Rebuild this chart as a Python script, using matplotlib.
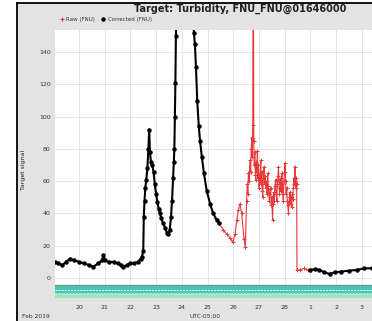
import numpy as np
import pandas as pd
import matplotlib
matplotlib.use("Agg")
import matplotlib.pyplot as plt
import matplotlib.dates as mdates
from matplotlib.lines import Line2D
from matplotlib.patches import Rectangle

# ---------------- data (days since 2019-02-20 00:00) ----------------
base_date = "2019-02-20"

corrected_days = [-0.93, -0.8, -0.65, -0.5, -0.35, -0.2, 0.0, 0.2, 0.4, 0.55, 0.75, 0.9, 0.95,
                  1.02, 1.15, 1.35, 1.5, 1.65, 1.72, 1.85, 2.0, 2.15, 2.3, 2.4, 2.45,
                  2.5, 2.52, 2.55, 2.58, 2.62, 2.66, 2.7, 2.73, 2.76, 2.8, 2.85, 2.9, 2.95,
                  3.0, 3.05, 3.1, 3.15, 3.2, 3.27, 3.35, 3.42, 3.48, 3.53, 3.58, 3.62, 3.66,
                  3.69, 3.71, 3.73, 3.75, 3.77, 3.8, 3.9, 4.1, 4.3, 4.42, 4.47, 4.51, 4.55,
                  4.6, 4.66, 4.71, 4.78, 4.86, 4.97, 5.1, 5.22, 5.36, 5.45,
                  5.46,
                  9.0, 9.2, 9.35, 9.55, 9.75, 9.95, 10.2, 10.5, 10.8, 11.1, 11.4]
corrected_vals = [10, 9, 8, 10, 12, 11, 10, 9, 8, 7, 9, 11, 14,
                  11, 10, 10, 9, 8, 7, 8, 9, 9, 10, 12, 13,
                  17, 38, 48, 56, 61, 68, 80, 92, 78, 72, 70, 66, 58,
                  52, 47, 43, 40, 37, 34, 31, 28, 27, 30, 38, 48, 62,
                  72, 80, 100, 121, 150, 185, 230, 260, 220, 170, 152, 145, 131,
                  110, 94, 85, 75, 65, 54, 46, 40, 36, 34,
                  np.nan,
                  5, 5.5, 5, 3.5, 2.5, 3.5, 4, 4.5, 5, 6, 6]

raw_days = [5.3, 5.45, 5.6, 5.75, 5.88, 5.98, 6.07, 6.14, 6.2, 6.26, 6.33, 6.42, 6.47,
            6.52, 6.55, 6.57, 6.59, 6.62, 6.65, 6.68, 6.70, 6.72, 6.74, 6.76, 6.78, 6.80,
            6.82, 6.84, 6.86, 6.88, 6.90, 6.92, 6.94, 6.96, 6.98, 7.01, 7.03, 7.05, 7.07,
            7.09, 7.11, 7.13, 7.15, 7.17, 7.20, 7.22, 7.25, 7.28, 7.30, 7.32, 7.34, 7.36,
            7.38, 7.41, 7.43, 7.46, 7.48, 7.50, 7.53, 7.55, 7.58, 7.60, 7.62, 7.65, 7.67,
            7.70, 7.72, 7.74, 7.76, 7.78, 7.80, 7.83, 7.85, 7.87, 7.89, 7.91, 7.93, 7.95,
            7.97, 8.00, 8.02, 8.04, 8.06, 8.08, 8.10, 8.12, 8.15, 8.17, 8.19, 8.21, 8.23,
            8.25, 8.28, 8.30, 8.32, 8.34, 8.36, 8.38, 8.40, 8.42, 8.44, 8.46, 8.47,
            8.48, 8.6, 8.75, 8.9, 9.02]
raw_vals = [37, 34, 30, 27, 25, 22, 27, 36, 42, 46, 40, 24, 19,
            48, 58, 52, 65, 60, 73, 66, 80, 87, 75, 95, 240, 85,
            70, 78, 64, 61, 72, 66, 79, 62, 70, 56, 64, 60, 73,
            58, 66, 54, 50, 62, 69, 58, 63, 56, 60, 52, 65, 57,
            52, 48, 55, 56, 45, 50, 36, 46, 53, 48, 57, 61, 52,
            48, 58, 63, 69, 60, 52, 56, 62, 54, 65, 58, 52, 48,
            60, 66, 71, 60, 52, 56, 48, 45, 40, 47, 50, 53, 46,
            50, 44, 52, 49, 56, 62, 58, 69, 60, 56, 62, 58,
            5, 5, 6, 5, 5]

yticks = [0, 20, 40, 60, 80, 100, 120, 140]
title = "Target: Turbidity, FNU_FNU@01646000"
legend_labels = ["Raw (FNU)", "Corrected (FNU)"]

# ---------------- figure ----------------
W, H = 372, 321
fig = plt.figure(figsize=(W / 100, H / 100), dpi=100, facecolor="white")

def fx(px):
    return px / W

def fy(py):
    return 1 - py / H

# grey panel with black frame on left/top
fig.patches.append(Rectangle((fx(17), 0), 1 - fx(17), fy(3), transform=fig.transFigure,
                             facecolor="#e3e3e3", edgecolor="none", zorder=-10))
fig.add_artist(Line2D([fx(17), fx(17)], [0, fy(3)], transform=fig.transFigure,
                      color="black", lw=1.3))
fig.add_artist(Line2D([fx(17), 1], [fy(3), fy(3)], transform=fig.transFigure,
                      color="black", lw=1.3))

ax = fig.add_axes([fx(55), fy(298), 1 - fx(55), fy(30) - fy(298)])
ax.set_facecolor("white")
ax.set_zorder(5)

base = pd.Timestamp(base_date)
t_corr = base + pd.to_timedelta(np.array(corrected_days), unit="D")
t_raw = base + pd.to_timedelta(np.array(raw_days), unit="D")

ax.plot(t_raw, raw_vals, color="#e8383a", lw=0.8, marker="+", ms=2.8, mew=0.7, zorder=3)
ax.plot(t_corr, corrected_vals, color="black", lw=1.5, marker="o", ms=2.2, zorder=4)

# status band at bottom
ax.axhspan(-12.4, -9.6, color="#a6e3c6", zorder=2, lw=0)
ax.axhspan(-9.6, -4.6, color="#45c9b6", zorder=2, lw=0)
ax.axhline(-4.5, color="#6d8f8f", lw=0.9, zorder=2)
ax.axhline(-7.2, color="white", lw=0.7, ls=(0, (2, 1.2)), zorder=2)

ax.set_ylim(-12.4, 153.7)
ax.set_xlim(base + pd.Timedelta(days=-0.934), base + pd.Timedelta(days=11.40))
ax.set_yticks(yticks)
ax.xaxis.set_major_locator(mdates.DayLocator())
ax.xaxis.set_major_formatter(mdates.DateFormatter("%-d"))
ax.tick_params(axis="both", length=0, labelsize=4.5, colors="#333333")
ax.tick_params(axis="y", pad=3)
ax.tick_params(axis="x", pad=5)
ax.grid(True, color="#e2e2e2", lw=0.6, zorder=1)
ax.set_axisbelow(True)
for s in ax.spines.values():
    s.set_visible(False)

# texts
fig.text(fx(240), fy(9), title, ha="center", va="center", fontsize=7,
         fontweight="bold", color="#222222")
fig.add_artist(Line2D([fx(62)], [fy(19)], transform=fig.transFigure, marker="+",
                      color="#e8383a", ms=3, mew=0.8, ls="none"))
fig.text(fx(66), fy(19), legend_labels[0], ha="left", va="center", fontsize=4.0, color="#333333")
fig.add_artist(Line2D([fx(103)], [fy(19)], transform=fig.transFigure, marker="o",
                      color="black", ms=2.2, ls="none"))
fig.text(fx(108), fy(19), legend_labels[1], ha="left", va="center", fontsize=4.0, color="#333333")

fig.text(fx(24), fy(170), "Target signal", rotation=90, ha="center", va="center",
         fontsize=4.5, color="#222222")
fig.text(fx(22), fy(316), "Feb 2019", ha="left", va="center", fontsize=4.3, color="#333333")
fig.text(fx(205), fy(316), "UTC-05:00", ha="center", va="center", fontsize=4.3, color="#333333")

fig.savefig("out.png", dpi=100, facecolor=fig.get_facecolor())
